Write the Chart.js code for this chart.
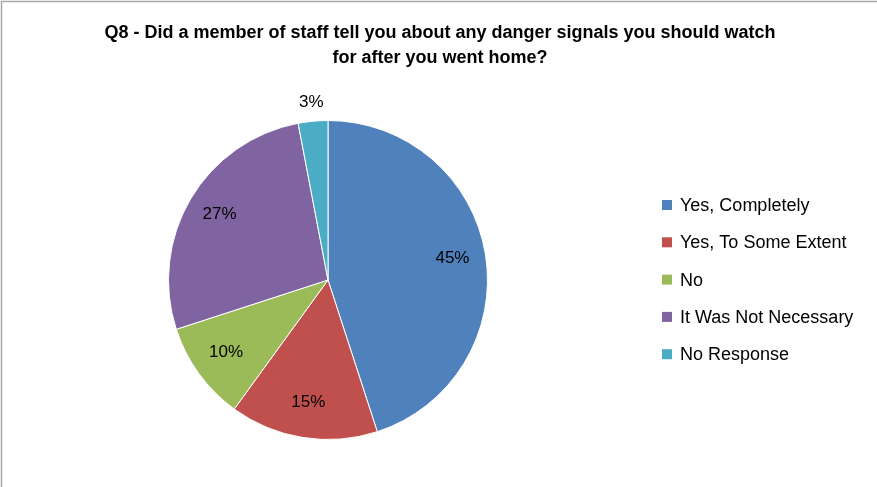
<!DOCTYPE html>
<html>
<head>
<meta charset="utf-8">
<script src="https://cdn.jsdelivr.net/npm/chart.js@4.4.1/dist/chart.umd.min.js"></script>
<style>
  html, body { margin: 0; padding: 0; background: #fff; }
  #wrap { width: 877px; height: 487px; position: relative; }
</style>
</head>
<body>
<div id="wrap"><canvas id="q8Chart" width="877" height="487"></canvas></div>
<script>
// Data jawaban Q8
const answers = ['Yes, Completely', 'Yes, To Some Extent', 'No', 'It Was Not Necessary', 'No Response'];
const percents = [45, 15, 10, 27, 3];
const sliceColors = ['#4F81BD', '#C0504D', '#9BBB59', '#8064A2', '#4BACC6'];
const chartTitle = ['Q8 - Did a member of staff tell you about any danger signals you should watch', 'for after you went home?'];

const fontFamily = '"Liberation Sans", Arial, sans-serif';

// Bingkai abu-abu di tepi atas dan kiri, plus judul dua baris
const framePlugin = {
    id: 'frame',
    beforeDraw(chart) {
        const c = chart.ctx;
        c.save();
        c.strokeStyle = '#A6A6A6';
        c.lineWidth = 1.5;
        c.beginPath();
        c.moveTo(1.5, chart.height);
        c.lineTo(1.5, 1.5);
        c.lineTo(chart.width, 1.5);
        c.stroke();

        c.font = 'bold 18px ' + fontFamily;
        c.fillStyle = '#000';
        c.textAlign = 'center';
        c.textBaseline = 'middle';
        chartTitle.forEach((line, i) => c.fillText(line, 440, 33 + i * 25));
        c.restore();
    }
};

// Label persen di dalam irisan (yang kecil di luar)
const percentLabels = {
    id: 'percentLabels',
    afterDatasetsDraw(chart) {
        const c = chart.ctx;
        const meta = chart.getDatasetMeta(0);
        c.save();
        c.font = '17px ' + fontFamily;
        c.fillStyle = '#000';
        c.textAlign = 'center';
        c.textBaseline = 'middle';
        meta.data.forEach((arc, i) => {
            const p = arc.getProps(['x', 'y', 'startAngle', 'endAngle', 'outerRadius'], true);
            const mid = (p.startAngle + p.endAngle) / 2;
            const r = percents[i] < 5 ? p.outerRadius + 17 : p.outerRadius * 0.79;
            c.fillText(percents[i] + '%', p.x + Math.cos(mid) * r, p.y + Math.sin(mid) * r - 2);
        });
        c.restore();
    }
};

// Legenda manual di kanan
const sideLegend = {
    id: 'sideLegend',
    afterDraw(chart) {
        const c = chart.ctx;
        c.save();
        c.font = '18px ' + fontFamily;
        c.textBaseline = 'middle';
        answers.forEach((name, i) => {
            const y = 205 + i * 37.3;
            c.fillStyle = sliceColors[i];
            c.fillRect(662, y - 5, 10, 10);
            c.fillStyle = '#000';
            c.fillText(name, 680, y + 1);
        });
        c.restore();
    }
};

new Chart(document.getElementById('q8Chart').getContext('2d'), {
    type: 'pie',
    data: {
        labels: answers,
        datasets: [{
            data: percents,
            backgroundColor: sliceColors,
            borderColor: '#fff',
            borderWidth: 1
        }]
    },
    options: {
        responsive: false,
        animation: false,
        layout: {
            padding: { left: 168, right: 389, top: 120, bottom: 47 }
        },
        plugins: {
            legend: { display: false },
            tooltip: { enabled: false },
            title: { display: false }
        }
    },
    plugins: [framePlugin, percentLabels, sideLegend]
});
</script>
</body>
</html>
